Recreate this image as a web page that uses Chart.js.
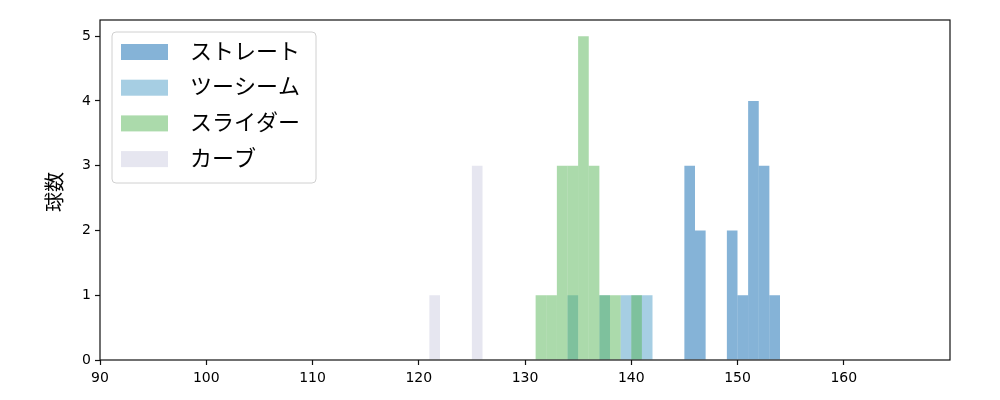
<!DOCTYPE html>
<html lang="ja">
<head>
    <meta charset="UTF-8">
    <title>球種別 球速ヒストグラム</title>
    <script src="https://cdn.jsdelivr.net/npm/chart.js@4.4.8/dist/chart.umd.min.js"></script>
    <style>
        html, body { margin: 0; padding: 0; background: #fff; }
        #wrap { width: 1000px; height: 400px; }
    </style>
</head>
<body>
<div id="wrap"><canvas id="pitchChart" width="1000" height="400"></canvas></div>

<script>
    // bins are 1 km/h wide, value = left edge of the bin
    const binStart = 90;
    const binEnd = 170;

    const straightBins = [145, 146, 149, 150, 151, 152, 153];
    const straightCounts = [3, 2, 2, 1, 4, 3, 1];

    const twoSeamBins = [134, 137, 139, 140, 141];
    const twoSeamCounts = [1, 1, 1, 1, 1];

    const sliderBins = [131, 132, 133, 134, 135, 136, 137, 138, 140];
    const sliderCounts = [1, 1, 3, 3, 5, 3, 1, 1, 1];

    const curveBins = [121, 125];
    const curveCounts = [1, 3];

    const seriesNames = ['ストレート', 'ツーシーム', 'スライダー', 'カーブ'];
    const seriesColors = ['rgba(11,103,175,0.5)', 'rgba(77,157,199,0.5)', 'rgba(87,181,87,0.5)', 'rgba(205,205,225,0.5)'];

    const xTicks = [90, 100, 110, 120, 130, 140, 150, 160];
    const yTicks = [0, 1, 2, 3, 4, 5];
    const yMax = 5.25;

    const fontFamily = '"DejaVu Sans", "Noto Sans CJK JP", sans-serif';

    const labels = [];
    for (let b = binStart; b < binEnd; b++) labels.push(b);

    function fillBins(bins, counts) {
        const out = labels.map(() => null);
        bins.forEach((b, i) => { out[b - binStart] = counts[i]; });
        return out;
    }

    const allBins = [straightBins, twoSeamBins, sliderBins, curveBins];
    const allCounts = [straightCounts, twoSeamCounts, sliderCounts, curveCounts];
    // slider sits above two-seam where they overlap
    const drawOrder = [3, 2, 0, 1];

    const datasets = seriesNames.map((name, i) => ({
        label: name,
        data: fillBins(allBins[i], allCounts[i]),
        backgroundColor: seriesColors[i],
        borderWidth: 0,
        inflateAmount: 0,
        barPercentage: 1,
        categoryPercentage: 1,
        grouped: false,
        order: drawOrder[i]
    }));

    // box round the plot + legend inside the plot + y title
    const framePlugin = {
        id: 'frame',
        afterDraw(chart) {
            const ctx = chart.ctx;
            const a = chart.chartArea;
            ctx.save();
            ctx.strokeStyle = '#111';
            ctx.lineWidth = 1.2;
            ctx.strokeRect(a.left, a.top, a.right - a.left, a.bottom - a.top);

            // y axis title
            ctx.translate(57, 192);
            ctx.rotate(-Math.PI / 2);
            ctx.fillStyle = '#000';
            ctx.font = '20px ' + fontFamily;
            ctx.textAlign = 'center';
            ctx.textBaseline = 'middle';
            ctx.fillText('球数', 0, 0);
            ctx.restore();

            // legend
            ctx.save();
            const bx = 112, by = 32, bw = 204, bh = 151, r = 4;
            ctx.beginPath();
            ctx.roundRect(bx, by, bw, bh, r);
            ctx.fillStyle = 'rgba(255,255,255,0.8)';
            ctx.fill();
            ctx.strokeStyle = '#d0d0d0';
            ctx.lineWidth = 1;
            ctx.stroke();
            ctx.font = '22px ' + fontFamily;
            ctx.textBaseline = 'middle';
            seriesNames.forEach((name, i) => {
                const cy = 52 + i * 35.7;
                ctx.fillStyle = seriesColors[i];
                ctx.fillRect(121, cy - 8, 47, 16);
                ctx.fillStyle = '#000';
                ctx.fillText(name, 190, cy + 1);
            });
            ctx.restore();
        }
    };

    const context = document.getElementById('pitchChart').getContext('2d');
    const chart = new Chart(context, {
        type: 'bar',
        data: { labels: labels, datasets: datasets },
        options: {
            responsive: false,
            animation: false,
            layout: { padding: { left: 0, right: 50, top: 20, bottom: 0 } },
            plugins: { legend: { display: false }, tooltip: { enabled: false } },
            scales: {
                x: { display: false, offset: true },
                xt: {
                    type: 'linear',
                    position: 'bottom',
                    offset: false,
                    min: binStart,
                    max: binEnd,
                    afterBuildTicks: s => { s.ticks = xTicks.map(v => ({ value: v })); },
                    afterFit: s => { s.height = 40; },
                    border: { display: false },
                    grid: { offset: false, drawOnChartArea: false, drawTicks: true, tickLength: 5, color: '#111', tickWidth: 1.2 },
                    ticks: { color: '#000', font: { family: fontFamily, size: 14 }, padding: 5, maxRotation: 0 }
                },
                y: {
                    min: 0,
                    max: yMax,
                    afterBuildTicks: s => { s.ticks = yTicks.map(v => ({ value: v })); },
                    afterFit: s => { s.width = 100; },
                    border: { display: false },
                    grid: { drawOnChartArea: false, drawTicks: true, tickLength: 5, color: '#111', tickWidth: 1.2 },
                    ticks: { color: '#000', font: { family: fontFamily, size: 14 }, padding: 4 }
                }
            }
        },
        plugins: [framePlugin]
    });
</script>
</body>
</html>
